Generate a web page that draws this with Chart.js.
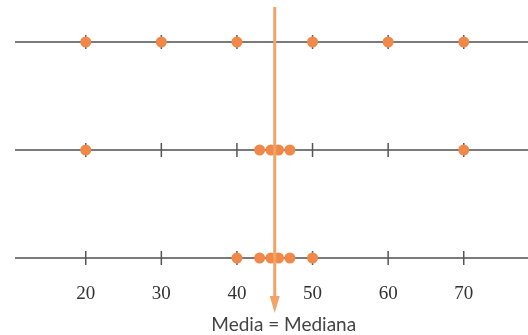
<!DOCTYPE html>
<html>
<head>
<meta charset="utf-8">
<script src="https://cdn.jsdelivr.net/npm/chart.js@4"></script>
<style>
    html, body { margin: 0; padding: 0; background: #fff; }
    #wrap { position: relative; width: 528px; height: 335px; }
</style>
</head>
<body>
<div id="wrap"><canvas id="chart"></canvas></div>
<script>
// values on each number line (top to bottom)
const rowTop = [20, 30, 40, 50, 60, 70];
const rowMiddle = [20, 43, 44.5, 45.5, 47, 70];
const rowBottom = [40, 43, 44.5, 45.5, 47, 50];
const rows = [rowTop, rowMiddle, rowBottom];
const rowLevels = [3, 2, 1];
const tickValues = [20, 30, 40, 50, 60, 70];
const lineStart = 10.65;
const arrowLabel = 'Media = Mediana';

const dotColor = '#f0884a';
const arrowColor = '#f4a366';

const mean = rowTop.reduce((a, b) => a + b, 0) / rowTop.length;

const numberLines = {
    id: 'numberLines',
    beforeDatasetsDraw(chart) {
        const { ctx, scales: { x, y } } = chart;
        ctx.save();
        rowLevels.forEach((level) => {
            const py = y.getPixelForValue(level);
            ctx.strokeStyle = '#7a7a7a';
            ctx.lineWidth = 2;
            ctx.beginPath();
            ctx.moveTo(x.getPixelForValue(lineStart), py);
            ctx.lineTo(chart.width, py);
            ctx.stroke();
            ctx.strokeStyle = '#555';
            ctx.lineWidth = 1.5;
            tickValues.forEach((t) => {
                const px = x.getPixelForValue(t);
                ctx.beginPath();
                ctx.moveTo(px, py - 7);
                ctx.lineTo(px, py + 7);
                ctx.stroke();
            });
        });
        // tick labels under the last line
        const last = y.getPixelForValue(rowLevels[rowLevels.length - 1]);
        ctx.fillStyle = '#333';
        ctx.font = '19px "Liberation Serif", serif';
        ctx.textAlign = 'center';
        ctx.textBaseline = 'middle';
        tickValues.forEach((t) => {
            ctx.fillText(String(t), x.getPixelForValue(t), last + 36);
        });
        ctx.restore();
    },
    afterDatasetsDraw(chart) {
        const { ctx, scales: { x } } = chart;
        const px = x.getPixelForValue(mean);
        ctx.save();
        ctx.strokeStyle = arrowColor;
        ctx.fillStyle = arrowColor;
        ctx.lineWidth = 3;
        ctx.beginPath();
        ctx.moveTo(px, 7);
        ctx.lineTo(px, 300);
        ctx.stroke();
        ctx.beginPath();
        ctx.moveTo(px - 5, 296);
        ctx.lineTo(px + 5, 296);
        ctx.lineTo(px, 313);
        ctx.closePath();
        ctx.fill();
        ctx.fillStyle = '#444';
        ctx.font = '19px Lato, sans-serif';
        ctx.textAlign = 'center';
        ctx.textBaseline = 'middle';
        ctx.fillText(arrowLabel, px + 9, 325);
        ctx.restore();
    },
};

new Chart(document.getElementById('chart'), {
    type: 'scatter',
    data: {
        datasets: rows.map((values, i) => ({
            data: values.map((v) => ({ x: v, y: rowLevels[i] })),
            backgroundColor: dotColor,
            borderWidth: 0,
            pointRadius: 5.5,
        })),
    },
    options: {
        responsive: true,
        maintainAspectRatio: false,
        animation: false,
        layout: { padding: 0, autoPadding: false },
        plugins: { legend: { display: false }, tooltip: { enabled: false } },
        scales: {
            x: { type: 'linear', min: 8.66, max: 78.5, display: false },
            y: { type: 'linear', min: 0.287, max: 3.389, display: false },
        },
    },
    plugins: [numberLines],
});
</script>
</body>
</html>
